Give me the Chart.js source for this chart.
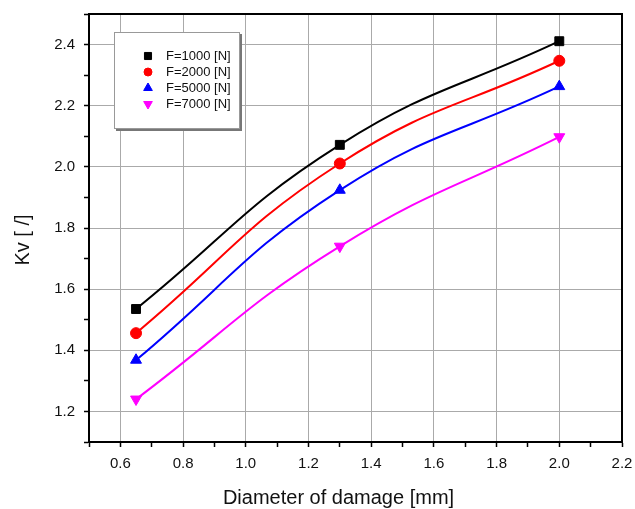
<!DOCTYPE html>
<html>
<head>
<meta charset="utf-8">
<title>Kv vs diameter of damage</title>
<script src="https://cdn.jsdelivr.net/npm/chart.js@4/dist/chart.umd.min.js"></script>
<style>
    body { margin: 0; background: #fff; }
    #wrap { position: relative; width: 635px; height: 509px; }
</style>
</head>
<body>
<div id="wrap"><canvas id="kvChart"></canvas></div>
<script>
/* ================= DATA ================= */

const diameters = [0.65, 1.3, 2.0];

const kv1000 = [1.535, 2.072, 2.411];
const kv2000 = [1.456, 2.011, 2.347];
const kv5000 = [1.368, 1.924, 2.263];
const kv7000 = [1.240, 1.740, 2.098];

const seriesLabels = ['F=1000 [N]', 'F=2000 [N]', 'F=5000 [N]', 'F=7000 [N]'];

// every tick mark; only the ones in the label lists get text + grid line
const xTicks = [0.5, 0.6, 0.7, 0.8, 0.9, 1.0, 1.1, 1.2, 1.3, 1.4, 1.5, 1.6, 1.7, 1.8, 1.9, 2.0, 2.1, 2.2];
const xLabels = [0.6, 0.8, 1.0, 1.2, 1.4, 1.6, 1.8, 2.0, 2.2];
const yTicks = [1.1, 1.2, 1.3, 1.4, 1.5, 1.6, 1.7, 1.8, 1.9, 2.0, 2.1, 2.2, 2.3, 2.4, 2.5];
const yLabels = [1.2, 1.4, 1.6, 1.8, 2.0, 2.2, 2.4];

const FONT = '"Liberation Sans", Arial, Helvetica, sans-serif';

function isIn(list, v) {
    return list.some(t => Math.abs(t - v) < 1e-6);
}

function toPoints(ys) {
    return diameters.map((x, i) => ({ x: x, y: ys[i] }));
}

/* ================= PLUGINS ================= */

// frame on top and right side
const frame = {
    id: 'frame',
    afterDraw(chart) {
        const { ctx, chartArea: a } = chart;
        ctx.save();
        ctx.strokeStyle = '#000';
        ctx.lineWidth = 2;
        ctx.strokeRect(a.left, a.top, a.right - a.left, a.bottom - a.top);
        ctx.restore();
    }
};

// axis titles
const axisTitles = {
    id: 'axisTitles',
    afterDraw(chart) {
        const { ctx, chartArea: a } = chart;
        ctx.save();
        ctx.fillStyle = '#111';
        ctx.font = '20px ' + FONT;
        ctx.textAlign = 'center';
        ctx.textBaseline = 'middle';
        ctx.fillText('Diameter of damage [mm]', (a.left + a.right) / 2 - 17, 498);

        ctx.translate(23, (a.top + a.bottom) / 2 + 12);
        ctx.rotate(-Math.PI / 2);
        ctx.fillText('Kv [ /]', 0, 0);
        ctx.restore();
    }
};

// boxed legend inside the plot
const boxLegend = {
    id: 'boxLegend',
    afterDraw(chart) {
        const { ctx } = chart;
        const bx = 114, by = 32, bw = 126, bh = 97;

        ctx.save();
        ctx.fillStyle = '#777';
        ctx.fillRect(bx + 2, by + 2, bw, bh);
        ctx.fillStyle = '#fff';
        ctx.fillRect(bx, by, bw, bh);
        ctx.strokeStyle = '#999';
        ctx.lineWidth = 1;
        ctx.strokeRect(bx + 0.5, by + 0.5, bw - 1, bh - 1);

        ctx.font = '13px ' + FONT;
        ctx.textAlign = 'left';
        ctx.textBaseline = 'middle';

        chart.data.datasets.forEach((ds, i) => {
            const y = 56 + i * 16;
            ctx.fillStyle = ds.backgroundColor;
            ctx.strokeStyle = ds.borderColor;
            Chart.helpers.drawPoint(ctx, {
                pointStyle: ds.pointStyle,
                rotation: ds.pointRotation || 0,
                radius: ds.pointStyle === 'circle' ? 4 : 5,
                borderWidth: 1
            }, 148, y);
            ctx.fillStyle = '#111';
            ctx.fillText(ds.label, 166, y + 0.5);
        });
        ctx.restore();
    }
};

/* ================= CHART ================= */

const colors = ['#000000', '#ff0000', '#0000ff', '#ff00ff'];
const styles = ['rect', 'circle', 'triangle', 'triangle'];
const rotations = [0, 0, 0, 180];
const radii = [6.3, 5.5, 6.3, 6.3];
const series = [kv1000, kv2000, kv5000, kv7000];

new Chart(document.getElementById('kvChart'), {

    type: 'scatter',

    data: {
        datasets: series.map((ys, i) => ({
            label: seriesLabels[i],
            data: toPoints(ys),
            showLine: true,
            borderColor: colors[i],
            backgroundColor: colors[i],
            borderWidth: 2,
            pointStyle: styles[i],
            pointRotation: rotations[i],
            pointRadius: radii[i],
            pointHoverRadius: radii[i],
            pointBorderWidth: 1,
            tension: 0.45
        }))
    },

    options: {
        responsive: true,
        maintainAspectRatio: false,
        animation: false,
        layout: {
            padding: { top: 14, right: 13, left: 0, bottom: 0 }
        },
        plugins: {
            legend: { display: false },
            tooltip: { enabled: false }
        },
        scales: {
            x: {
                type: 'linear',
                min: 0.5,
                max: 2.2,
                afterBuildTicks: s => { s.ticks = xTicks.map(v => ({ value: v })); },
                afterFit: s => {
                    s.height = 67;
                    s.paddingLeft = 0;
                    s.paddingRight = 0;
                },
                border: { display: true, color: '#000', width: 2 },
                grid: {
                    color: c => (c.tick && isIn(xLabels, c.tick.value) ? '#aaaaaa' : 'rgba(0,0,0,0)'),
                    lineWidth: 1,
                    tickColor: '#000',
                    tickWidth: 1.5,
                    tickLength: 5
                },
                ticks: {
                    autoSkip: false,
                    maxRotation: 0,
                    padding: 8,
                    color: '#111',
                    font: { family: FONT, size: 15 },
                    callback: v => (isIn(xLabels, v) ? v.toFixed(1) : '')
                }
            },
            y: {
                min: 1.1,
                max: 2.5,
                afterBuildTicks: s => { s.ticks = yTicks.map(v => ({ value: v })); },
                afterFit: s => {
                    s.width = 89;
                    s.paddingTop = 0;
                    s.paddingBottom = 0;
                },
                border: { display: true, color: '#000', width: 2 },
                grid: {
                    color: c => (c.tick && isIn(yLabels, c.tick.value) ? '#aaaaaa' : 'rgba(0,0,0,0)'),
                    lineWidth: 1,
                    tickColor: '#000',
                    tickWidth: 1.5,
                    tickLength: 5
                },
                ticks: {
                    autoSkip: false,
                    padding: 9,
                    color: '#111',
                    font: { family: FONT, size: 15 },
                    callback: v => (isIn(yLabels, v) ? v.toFixed(1) : '')
                }
            }
        }
    },

    plugins: [frame, axisTitles, boxLegend]
});
</script>
</body>
</html>
